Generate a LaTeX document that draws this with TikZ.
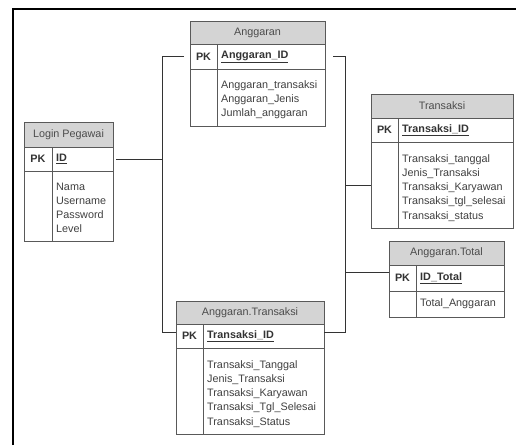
\documentclass[tikz,border=0pt]{standalone}
\usepackage{fontspec}
\setmainfont{Liberation Sans}
\usetikzlibrary{positioning}

\begin{document}
\begin{tikzpicture}[x=1pt, y=-1pt, font=\fontsize{10.8}{14.3}\selectfont,
    box/.style={draw=black!65, line width=0.8pt, inner sep=0pt, outer sep=0pt, anchor=north west},
    head/.style={box, fill=black!17, text=black!70},
    col/.style={draw=black!65, line width=0.8pt},
    link/.style={draw=black!80, line width=0.9pt},
    pk/.style={inner sep=0pt, text=black!80, font=\fontsize{10.8}{14.3}\selectfont\bfseries},
    txt/.style={inner sep=0pt, text=black!75, anchor=base west, align=left}]

    \useasboundingbox (0,0) rectangle (516,445);
    \draw[line width=1.4pt] (13,445) -- (13,9) -- (516,9);

    \def\pkw{27pt}
    \def\pkc{13.5pt}
    \def\pkt{31pt}

    % Anggaran
    \def\xa{190}
    \def\ya{21}
    \def\wa{135pt}
    \node[head, minimum width=\wa, minimum height=23pt] (anggaran) at (\xa, \ya) {Anggaran};
    \node[box, minimum width=\wa, minimum height=25pt, below=0pt of anggaran] (anggaranKey) {};
    \node[box, minimum width=\wa, minimum height=57pt, below=0pt of anggaranKey] (anggaranBody) {};
    \draw[col] ([xshift=\pkw]anggaranKey.north west) -- ([xshift=\pkw]anggaranBody.south west);
    \node[pk] (anggaranPK) at ([xshift=\pkc]anggaranKey.west) {PK};
    \node[pk, anchor=west] (anggaranID) at ([xshift=\pkt]anggaranKey.west) {\underline{Anggaran\_ID}};
    % base of a multi-line node is its last line
    \node[txt] (anggaranAttr) at ([xshift=\pkt, yshift=-47.6pt]anggaranBody.north west)
        {Anggaran\_transaksi\\Anggaran\_Jenis\\Jumlah\_anggaran};

    % Login Pegawai
    \def\xa{24}
    \def\ya{122}
    \def\wa{89pt}
    \node[head, minimum width=\wa, minimum height=25pt] (login) at (\xa, \ya) {Login Pegawai};
    \node[box, minimum width=\wa, minimum height=24pt, below=0pt of login] (loginKey) {};
    \node[box, minimum width=\wa, minimum height=70pt, below=0pt of loginKey] (loginBody) {};
    \draw[col] ([xshift=28pt]loginKey.north west) -- ([xshift=28pt]loginBody.south west);
    \node[pk] (loginPK) at ([xshift=14pt]loginKey.west) {PK};
    \node[pk, anchor=west] (loginID) at ([xshift=32pt]loginKey.west) {\underline{ID}};
    \node[txt] (loginAttr) at ([xshift=32pt, yshift=-61.9pt]loginBody.north west)
        {Nama\\Username\\Password\\Level};

    % Transaksi
    \def\xa{371}
    \def\ya{94}
    \def\wa{142pt}
    \node[head, minimum width=\wa, minimum height=24pt] (trans) at (\xa, \ya) {Transaksi};
    \node[box, minimum width=\wa, minimum height=24pt, below=0pt of trans] (transKey) {};
    \node[box, minimum width=\wa, minimum height=86pt, below=0pt of transKey] (transBody) {};
    \draw[col] ([xshift=\pkw]transKey.north west) -- ([xshift=\pkw]transBody.south west);
    \node[pk] (transPK) at ([xshift=\pkc]transKey.west) {PK};
    \node[pk, anchor=west] (transID) at ([xshift=\pkt]transKey.west) {\underline{Transaksi\_ID}};
    \node[txt] (transAttr) at ([xshift=\pkt, yshift=-77.2pt]transBody.north west)
        {Transaksi\_tanggal\\Jenis\_Transaksi\\Transaksi\_Karyawan\\Transaksi\_tgl\_selesai\\Transaksi\_status};

    % Anggaran.Total
    \def\xa{389}
    \def\ya{241}
    \def\wa{115pt}
    \node[head, minimum width=\wa, minimum height=24pt] (total) at (\xa, \ya) {Anggaran.Total};
    \node[box, minimum width=\wa, minimum height=26pt, below=0pt of total] (totalKey) {};
    \node[box, minimum width=\wa, minimum height=26pt, below=0pt of totalKey] (totalBody) {};
    \draw[col] ([xshift=\pkw]totalKey.north west) -- ([xshift=\pkw]totalBody.south west);
    \node[pk] (totalPK) at ([xshift=\pkc]totalKey.west) {PK};
    \node[pk, anchor=west] (totalID) at ([xshift=\pkt]totalKey.west) {\underline{ID\_Total}};
    \node[txt, anchor=west] (totalAttr) at ([xshift=\pkt]totalBody.west) {Total\_Anggaran};

    % Anggaran.Transaksi
    \def\xa{176}
    \def\ya{301}
    \def\wa{148pt}
    \node[head, minimum width=\wa, minimum height=23pt] (at) at (\xa, \ya) {Anggaran.Transaksi};
    \node[box, minimum width=\wa, minimum height=24pt, below=0pt of at] (atKey) {};
    \node[box, minimum width=\wa, minimum height=86pt, below=0pt of atKey] (atBody) {};
    \draw[col] ([xshift=\pkw]atKey.north west) -- ([xshift=\pkw]atBody.south west);
    \node[pk] (atPK) at ([xshift=\pkc]atKey.west) {PK};
    \node[pk, anchor=west] (atID) at ([xshift=\pkt]atKey.west) {\underline{Transaksi\_ID}};
    \node[txt] (atAttr) at ([xshift=\pkt, yshift=-77.2pt]atBody.north west)
        {Transaksi\_Tanggal\\Jenis\_Transaksi\\Transaksi\_Karyawan\\Transaksi\_Tgl\_Selesai\\Transaksi\_Status};

    % relations
    \coordinate (busL) at (162, 0);
    \coordinate (busR) at (345, 0);
    \coordinate (atL) at ([yshift=4pt]atKey.west);
    \coordinate (atR) at ([yshift=4pt]atKey.east);
    \draw[link] ([xshift=3pt]loginKey.east) -- (loginKey.east -| busL);
    \draw[link] ([xshift=-6pt]anggaranKey.west) -| (atL -| busL) -- (atL);
    \draw[link] ([xshift=8pt]anggaranKey.east) -| (atR -| busR) -- (atR);
    \draw[link] (transBody.west -| busR) -- (transBody.west);
    \draw[link] ([yshift=6pt]totalKey.west -| busR) -- ([yshift=6pt]totalKey.west);
\end{tikzpicture}
\end{document}
